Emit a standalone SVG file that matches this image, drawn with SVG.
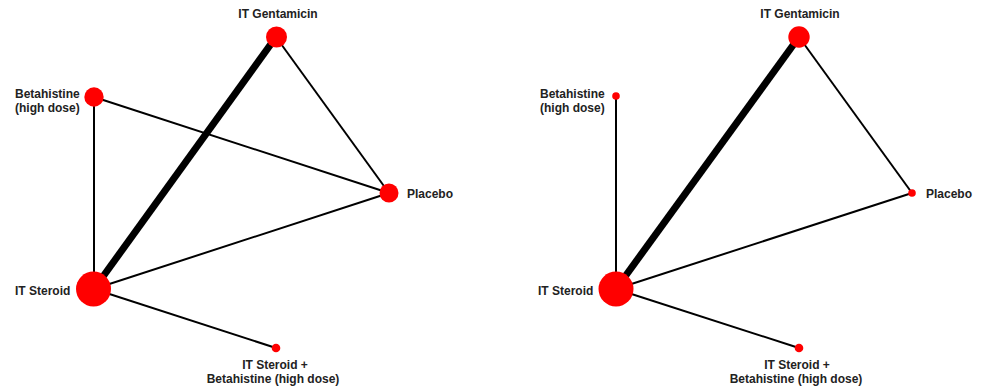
<svg xmlns="http://www.w3.org/2000/svg" width="982" height="387" viewBox="0 0 982 387">
<style>
.e{stroke:#000;stroke-width:2;fill:none}
.t{stroke:#000;stroke-width:7;fill:none}
.n{fill:#ff0000}
text{font-family:"Liberation Sans",Arial,sans-serif;font-size:12px;font-weight:bold;fill:#222}
.m{text-anchor:middle}
</style>
<rect width="982" height="387" fill="#fff"/>
<g id="connectors-left">
<line class="e" x1="94" y1="97" x2="94" y2="289"/>
<line class="e" x1="94" y1="97" x2="389" y2="193"/>
<line class="e" x1="276" y1="37" x2="389" y2="193"/>
<line class="e" x1="94" y1="289" x2="389" y2="193"/>
<line class="e" x1="94" y1="289" x2="276" y2="348"/>
<line class="t" x1="94" y1="289" x2="276" y2="37"/>
</g>
<g id="connectors-right">
<line class="e" x1="616" y1="96" x2="616" y2="289"/>
<line class="e" x1="799" y1="37" x2="912" y2="193"/>
<line class="e" x1="616" y1="289" x2="912" y2="193"/>
<line class="e" x1="616" y1="289" x2="799" y2="348"/>
<line class="t" x1="616" y1="289" x2="799" y2="37"/>
</g>
<g id="L-gentamicin"><circle class="n" cx="276.5" cy="37" r="10.5"/><text class="m" x="278" y="18">IT Gentamicin</text></g>
<g id="L-betahistine"><circle class="n" cx="94" cy="97" r="9.7"/><text x="15" y="98">Betahistine</text><text x="15" y="112">(high dose)</text></g>
<g id="L-placebo"><circle class="n" cx="389" cy="193" r="9.5"/><text x="407" y="198">Placebo</text></g>
<g id="L-steroid"><circle class="n" cx="93.5" cy="289" r="17.5"/><text x="15" y="295">IT Steroid</text></g>
<g id="L-combo"><circle class="n" cx="276" cy="348" r="4.3"/><text class="m" x="275" y="369">IT Steroid +</text><text class="m" x="273" y="383">Betahistine (high dose)</text></g>
<g id="R-gentamicin"><circle class="n" cx="799" cy="37" r="10.7"/><text class="m" x="800" y="18">IT Gentamicin</text></g>
<g id="R-betahistine"><circle class="n" cx="616" cy="96" r="3.8"/><text x="540" y="98">Betahistine</text><text x="540" y="112">(high dose)</text></g>
<g id="R-placebo"><circle class="n" cx="912" cy="193" r="3.8"/><text x="926" y="198">Placebo</text></g>
<g id="R-steroid"><circle class="n" cx="616" cy="289" r="17.5"/><text x="538" y="295">IT Steroid</text></g>
<g id="R-combo"><circle class="n" cx="799" cy="348" r="4.3"/><text class="m" x="797" y="369">IT Steroid +</text><text class="m" x="796" y="383">Betahistine (high dose)</text></g>
</svg>
